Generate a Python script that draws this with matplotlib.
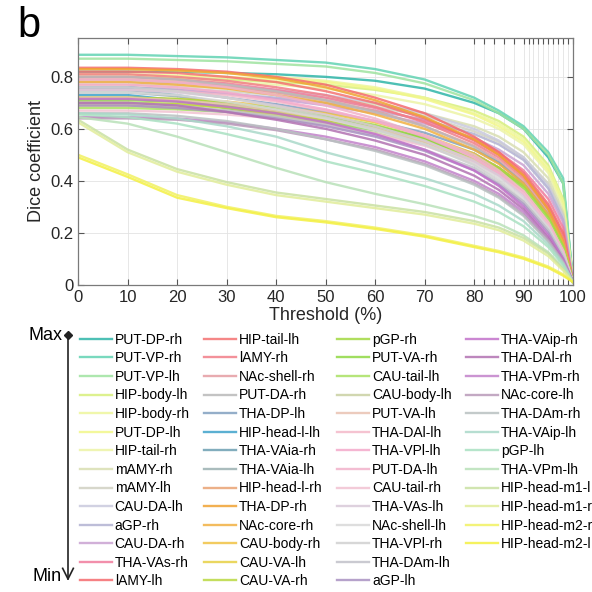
import matplotlib
matplotlib.use("Agg")
import matplotlib.pyplot as plt
from matplotlib.lines import Line2D

plt.rcParams['font.family'] = ['Liberation Sans', 'DejaVu Sans']

# threshold (%) at which the Dice coefficient was read
thresholds = [0, 10, 20, 30, 40, 50, 60, 70, 80, 85, 90, 95, 98, 100]

# regions, ordered Max -> Min as in the legend
regions = [
    'PUT-DP-rh', 'PUT-VP-rh', 'PUT-VP-lh', 'HIP-body-lh', 'HIP-body-rh', 'PUT-DP-lh', 'HIP-tail-rh',
    'mAMY-rh', 'mAMY-lh', 'CAU-DA-lh', 'aGP-rh', 'CAU-DA-rh', 'THA-VAs-rh', 'lAMY-lh',
    'HIP-tail-lh', 'lAMY-rh', 'NAc-shell-rh', 'PUT-DA-rh', 'THA-DP-lh', 'HIP-head-l-lh', 'THA-VAia-rh',
    'THA-VAia-lh', 'HIP-head-l-rh', 'THA-DP-rh', 'NAc-core-rh', 'CAU-body-rh', 'CAU-VA-lh', 'CAU-VA-rh',
    'pGP-rh', 'PUT-VA-rh', 'CAU-tail-lh', 'CAU-body-lh', 'PUT-VA-lh', 'THA-DAl-lh', 'THA-VPl-lh',
    'PUT-DA-lh', 'CAU-tail-rh', 'THA-VAs-lh', 'NAc-shell-lh', 'THA-VPl-rh', 'THA-DAm-lh', 'aGP-lh',
    'THA-VAip-rh', 'THA-DAl-rh', 'THA-VPm-rh', 'NAc-core-lh', 'THA-DAm-rh', 'THA-VAip-lh', 'pGP-lh',
    'THA-VPm-lh', 'HIP-head-m1-l', 'HIP-head-m1-r', 'HIP-head-m2-r', 'HIP-head-m2-l',
]

colors = [
    '#2fb5a8', '#62d3b3', '#9fe3a0', '#d8ef7c', '#eef69c', '#f2f78a', '#edf4a6',
    '#d9deb2', '#d0d1c2', '#c9c9dd', '#b2b2d2', '#c9a2d2', '#f07c9c', '#f56b6e',
    '#f47272', '#f27e88', '#e59ca2', '#b9b9b9', '#82a0c0', '#3ea2cb', '#6c9fb2',
    '#9bb1b2', '#e9a273', '#f0a232', '#f2b142', '#f0c244', '#e7d044', '#bad942',
    '#a2d942', '#90d944', '#a9e163', '#c9d1a2', '#e9c2b2', '#f4b9c9', '#f4aacb',
    '#f1b2ca', '#f1c2d2', '#d9c9d9', '#d9d9d9', '#d1d1d1', '#c1c1c9', '#aa92c2',
    '#c272ca', '#b272b2', '#c282ca', '#b99ab9', '#b9c1c1', '#aad9c9', '#aae1c2',
    '#b9e1b9', '#c9e1a2', '#e1ed9a', '#f1f162', '#f4f042',
]

# Dice coefficient per region, one value per threshold
dice = [
    [0.82, 0.82, 0.82, 0.815, 0.81, 0.80, 0.785, 0.755, 0.70, 0.66, 0.60, 0.49, 0.39, 0.01],
    [0.885, 0.885, 0.88, 0.875, 0.865, 0.855, 0.83, 0.79, 0.72, 0.67, 0.61, 0.51, 0.41, 0.01],
    [0.87, 0.87, 0.865, 0.86, 0.85, 0.84, 0.815, 0.775, 0.71, 0.66, 0.60, 0.50, 0.39, 0.01],
    [0.80, 0.80, 0.795, 0.79, 0.78, 0.77, 0.75, 0.72, 0.67, 0.63, 0.57, 0.46, 0.33, 0.01],
    [0.83, 0.83, 0.825, 0.815, 0.80, 0.785, 0.76, 0.72, 0.66, 0.62, 0.56, 0.45, 0.32, 0.01],
    [0.81, 0.81, 0.805, 0.80, 0.79, 0.78, 0.755, 0.715, 0.655, 0.61, 0.55, 0.44, 0.31, 0.01],
    [0.79, 0.79, 0.785, 0.78, 0.77, 0.755, 0.73, 0.695, 0.64, 0.60, 0.54, 0.43, 0.30, 0.01],
    [0.77, 0.77, 0.765, 0.755, 0.74, 0.72, 0.695, 0.66, 0.61, 0.57, 0.51, 0.41, 0.28, 0.01],
    [0.76, 0.76, 0.755, 0.745, 0.73, 0.71, 0.685, 0.65, 0.59, 0.55, 0.49, 0.39, 0.27, 0.01],
    [0.78, 0.78, 0.775, 0.765, 0.75, 0.73, 0.70, 0.66, 0.60, 0.555, 0.49, 0.38, 0.26, 0.01],
    [0.75, 0.75, 0.745, 0.735, 0.72, 0.70, 0.67, 0.635, 0.58, 0.54, 0.48, 0.37, 0.25, 0.01],
    [0.76, 0.76, 0.75, 0.735, 0.715, 0.69, 0.66, 0.62, 0.565, 0.52, 0.46, 0.35, 0.24, 0.01],
    [0.80, 0.80, 0.79, 0.775, 0.75, 0.72, 0.68, 0.63, 0.56, 0.51, 0.44, 0.33, 0.22, 0.01],
    [0.835, 0.835, 0.83, 0.82, 0.80, 0.77, 0.72, 0.66, 0.57, 0.51, 0.43, 0.31, 0.20, 0.01],
    [0.82, 0.82, 0.815, 0.80, 0.78, 0.745, 0.70, 0.64, 0.555, 0.50, 0.42, 0.30, 0.19, 0.01],
    [0.81, 0.81, 0.80, 0.785, 0.76, 0.73, 0.685, 0.625, 0.545, 0.49, 0.41, 0.29, 0.18, 0.01],
    [0.79, 0.79, 0.78, 0.765, 0.74, 0.71, 0.67, 0.61, 0.535, 0.48, 0.40, 0.28, 0.17, 0.01],
    [0.80, 0.80, 0.79, 0.77, 0.745, 0.71, 0.665, 0.61, 0.53, 0.47, 0.39, 0.27, 0.16, 0.01],
    [0.76, 0.76, 0.745, 0.72, 0.695, 0.665, 0.63, 0.585, 0.52, 0.47, 0.39, 0.27, 0.16, 0.01],
    [0.73, 0.73, 0.71, 0.68, 0.655, 0.625, 0.595, 0.56, 0.50, 0.45, 0.38, 0.26, 0.15, 0.01],
    [0.75, 0.75, 0.73, 0.70, 0.675, 0.645, 0.61, 0.565, 0.505, 0.45, 0.38, 0.26, 0.15, 0.01],
    [0.74, 0.74, 0.725, 0.70, 0.67, 0.635, 0.60, 0.555, 0.49, 0.44, 0.37, 0.25, 0.14, 0.01],
    [0.69, 0.69, 0.68, 0.67, 0.655, 0.63, 0.60, 0.56, 0.50, 0.45, 0.38, 0.26, 0.15, 0.01],
    [0.83, 0.83, 0.825, 0.815, 0.795, 0.76, 0.71, 0.645, 0.56, 0.50, 0.42, 0.29, 0.17, 0.01],
    [0.78, 0.78, 0.77, 0.755, 0.73, 0.70, 0.655, 0.60, 0.52, 0.465, 0.39, 0.27, 0.16, 0.01],
    [0.72, 0.72, 0.715, 0.705, 0.685, 0.66, 0.625, 0.575, 0.505, 0.45, 0.38, 0.26, 0.15, 0.01],
    [0.70, 0.70, 0.695, 0.685, 0.665, 0.64, 0.605, 0.555, 0.49, 0.44, 0.37, 0.25, 0.14, 0.01],
    [0.70, 0.70, 0.695, 0.68, 0.66, 0.635, 0.60, 0.555, 0.49, 0.44, 0.37, 0.25, 0.14, 0.01],
    [0.72, 0.72, 0.715, 0.70, 0.68, 0.65, 0.615, 0.565, 0.50, 0.45, 0.38, 0.26, 0.15, 0.01],
    [0.71, 0.71, 0.705, 0.69, 0.67, 0.645, 0.61, 0.56, 0.49, 0.44, 0.37, 0.25, 0.14, 0.01],
    [0.68, 0.68, 0.675, 0.665, 0.65, 0.625, 0.595, 0.55, 0.485, 0.435, 0.37, 0.25, 0.14, 0.01],
    [0.69, 0.69, 0.685, 0.67, 0.65, 0.62, 0.585, 0.54, 0.475, 0.425, 0.36, 0.24, 0.13, 0.01],
    [0.72, 0.72, 0.71, 0.695, 0.67, 0.64, 0.60, 0.55, 0.48, 0.43, 0.36, 0.24, 0.13, 0.01],
    [0.75, 0.75, 0.745, 0.73, 0.705, 0.67, 0.63, 0.575, 0.50, 0.44, 0.36, 0.24, 0.13, 0.01],
    [0.77, 0.77, 0.76, 0.74, 0.71, 0.675, 0.63, 0.57, 0.49, 0.43, 0.35, 0.23, 0.12, 0.01],
    [0.79, 0.79, 0.78, 0.76, 0.73, 0.69, 0.64, 0.575, 0.49, 0.43, 0.35, 0.23, 0.12, 0.01],
    [0.67, 0.67, 0.665, 0.655, 0.64, 0.615, 0.58, 0.535, 0.47, 0.42, 0.35, 0.23, 0.12, 0.01],
    [0.75, 0.75, 0.74, 0.72, 0.69, 0.655, 0.61, 0.555, 0.475, 0.42, 0.34, 0.22, 0.12, 0.01],
    [0.74, 0.74, 0.73, 0.705, 0.675, 0.64, 0.595, 0.54, 0.465, 0.41, 0.33, 0.22, 0.11, 0.01],
    [0.76, 0.76, 0.745, 0.72, 0.685, 0.645, 0.60, 0.54, 0.46, 0.40, 0.32, 0.21, 0.11, 0.01],
    [0.70, 0.70, 0.69, 0.67, 0.645, 0.615, 0.575, 0.52, 0.45, 0.39, 0.32, 0.21, 0.11, 0.01],
    [0.69, 0.69, 0.68, 0.665, 0.64, 0.61, 0.57, 0.515, 0.44, 0.385, 0.31, 0.20, 0.10, 0.01],
    [0.715, 0.715, 0.705, 0.685, 0.66, 0.625, 0.58, 0.52, 0.44, 0.38, 0.30, 0.19, 0.10, 0.01],
    [0.70, 0.70, 0.69, 0.665, 0.635, 0.60, 0.555, 0.50, 0.42, 0.365, 0.29, 0.18, 0.09, 0.01],
    [0.645, 0.645, 0.64, 0.625, 0.60, 0.57, 0.53, 0.475, 0.40, 0.35, 0.28, 0.17, 0.09, 0.01],
    [0.64, 0.64, 0.635, 0.62, 0.595, 0.56, 0.52, 0.465, 0.39, 0.34, 0.27, 0.17, 0.09, 0.01],
    [0.66, 0.66, 0.65, 0.63, 0.60, 0.56, 0.515, 0.46, 0.385, 0.335, 0.265, 0.165, 0.085, 0.01],
    [0.66, 0.655, 0.64, 0.61, 0.57, 0.51, 0.46, 0.41, 0.35, 0.305, 0.245, 0.155, 0.08, 0.01],
    [0.655, 0.645, 0.62, 0.58, 0.535, 0.475, 0.43, 0.38, 0.32, 0.28, 0.225, 0.145, 0.075, 0.01],
    [0.645, 0.62, 0.57, 0.51, 0.45, 0.395, 0.35, 0.31, 0.265, 0.235, 0.19, 0.125, 0.065, 0.01],
    [0.635, 0.52, 0.445, 0.395, 0.355, 0.33, 0.305, 0.28, 0.245, 0.22, 0.18, 0.12, 0.06, 0.01],
    [0.625, 0.51, 0.435, 0.385, 0.345, 0.32, 0.295, 0.27, 0.235, 0.21, 0.17, 0.11, 0.055, 0.01],
    [0.50, 0.425, 0.345, 0.30, 0.265, 0.245, 0.22, 0.19, 0.15, 0.13, 0.105, 0.07, 0.04, 0.01],
    [0.49, 0.415, 0.335, 0.295, 0.26, 0.24, 0.215, 0.185, 0.145, 0.125, 0.10, 0.065, 0.035, 0.01],
]

x_ticks = [0, 10, 20, 30, 40, 50, 60, 70, 80, 90, 100]
x_minor = [82, 84, 86, 88, 91, 92, 93, 94, 95, 96, 97, 98, 99]
y_ticks = [0, 0.2, 0.4, 0.6, 0.8]
y_labels = ['0', '0.2', '0.4', '0.6', '0.8']

fig = plt.figure(figsize=(5.92, 5.92), dpi=100)
ax = fig.add_axes([0.132, 0.519, 0.836, 0.417])

# one curve per region
handles = []
for name, col, vals in zip(regions, colors, dice):
    line, = ax.plot(thresholds, vals, color=col, lw=1.7, alpha=0.85, label=name)
    handles.append(line)

ax.set_xlim(0, 100)
ax.set_ylim(0, 0.95)
ax.set_xticks(x_ticks)
ax.set_xticks(x_minor, minor=True)
ax.set_yticks(y_ticks)
ax.set_yticklabels(y_labels)
ax.tick_params(which='both', direction='in', top=True, right=True, length=4,
               width=0.8, color='#555555', labelsize=12, labelcolor='#262626')
ax.grid(True, which='both', color='#e3e3e3', lw=0.6)
ax.set_axisbelow(True)
for sp in ax.spines.values():
    sp.set_color('#7a7a7a')
    sp.set_linewidth(0.9)

ax.set_xlabel('Threshold (%)', fontsize=13, color='#262626', labelpad=2)
ax.set_ylabel('Dice coefficient', fontsize=13, color='#262626', labelpad=4)

fig.text(0.03, 0.99, 'b', fontsize=30, va='top', ha='left')

# legend, 14 rows per column (two blanks pad the last column)
blank = Line2D([], [], color='none')
leg_handles = handles + [blank, blank]
leg_labels = regions + ['', '']
fig.legend(leg_handles, leg_labels, ncol=4, loc='upper left',
           bbox_to_anchor=(0.135, 0.438), frameon=False, fontsize=10,
           handlelength=2.3, handletextpad=0.2, columnspacing=1.05,
           labelspacing=0.33, borderpad=0, borderaxespad=0)

# Max -> Min arrow
ax_x = 68 / 592
y_top = 1 - 335 / 592
y_bot = 1 - 579 / 592
fig.add_artist(Line2D([ax_x, ax_x], [y_top, y_bot], transform=fig.transFigure,
                      color='#222222', lw=1.2))
fig.add_artist(Line2D([ax_x], [y_top], transform=fig.transFigure, marker='D',
                      markersize=4.5, color='#222222'))
fig.add_artist(Line2D([ax_x - 0.009, ax_x, ax_x + 0.009], [y_bot + 0.018, y_bot, y_bot + 0.018],
                      transform=fig.transFigure, color='#222222', lw=1.2))
fig.text(ax_x - 0.01, y_top, 'Max', fontsize=13, ha='right', va='center')
fig.text(ax_x - 0.01, y_bot + 0.004, 'Min', fontsize=13, ha='right', va='center')

fig.savefig('out.png', dpi=100)
